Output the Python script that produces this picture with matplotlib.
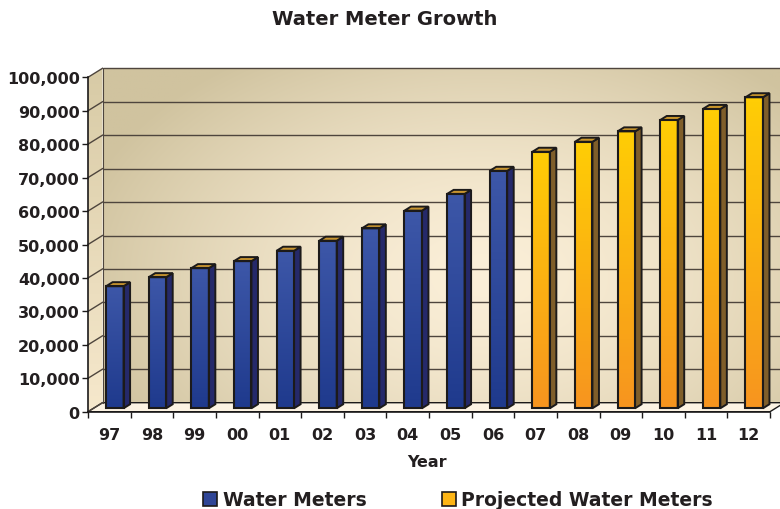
import numpy as np
import matplotlib.pyplot as plt
from matplotlib.patches import Polygon, Patch
from matplotlib.colors import to_rgb

# values (front plane of the 3-D chart)
years = ['97', '98', '99', '00', '01', '02', '03', '04',
         '05', '06', '07', '08', '09', '10', '11', '12']
meters = [36500, 39200, 41900, 44000, 47100, 50100, 53800, 59100, 64100, 71000]
projected = [76700, 79700, 82800, 86200, 89500, 93000]
yticks = list(range(0, 100001, 10000))

TXT = '#231f20'
EDGE = '#1c1a1a'
plt.rcParams['font.family'] = 'DejaVu Sans'
plt.rcParams['font.weight'] = 'bold'


def vgrad(top, bottom, n=64):
    t = np.linspace(0, 1, n)[:, None, None]
    return (1 - t) * np.array(to_rgb(top)) + t * np.array(to_rgb(bottom))


fig = plt.figure(figsize=(7.8, 5.1), dpi=100)
W, H = 780, 510

# plot box in pixels: front axis at x=88, floor front at y=412.7,
# back wall top at y=69.3; depth offset 14.5px right, 9px up
DPX, DPY = 14.5, 9.0
left, right, bottom, top = 88, 784.5, 412.7, 69.3
ax = fig.add_axes([left / W, (H - bottom) / H, (right - left) / W, (bottom - top) / H])
ncat = len(years)
pxu = (right - left - DPX) / ncat
pyu = (bottom - top - DPY) / 100000
ddx, ddy = DPX / pxu, DPY / pyu
ax.set_xlim(0, ncat + ddx)
ax.set_ylim(0, 100000 + ddy)
ax.patch.set_visible(False)

# back wall with soft radial gradient
nx, ny = 240, 140
gx, gy = np.meshgrid(np.linspace(0, 1, nx), np.linspace(0, 1, ny))
r = np.sqrt(((gx - 0.56) / 0.62) ** 2 + ((gy - 0.62) / 0.8) ** 2)
t = np.clip(r, 0, 1) ** 1.5
light, dark = np.array(to_rgb('#fbefd8')), np.array(to_rgb('#d0c39f'))
wall = (1 - t)[..., None] * light + t[..., None] * dark
ax.imshow(wall, extent=(ddx, ncat + ddx, ddy, 100000 + ddy), aspect='auto',
          zorder=0, interpolation='bilinear')

# left side wall
side = Polygon([(0, 0), (ddx, ddy), (ddx, 100000 + ddy), (0, 100000)],
               closed=True, facecolor='none', edgecolor='none')
ax.add_patch(side)
sim = ax.imshow(vgrad('#d8cba6', '#f6e8cc'), extent=(0, ddx, 0, 100000 + ddy),
                aspect='auto', zorder=0.5)
sim.set_clip_path(side)

# floor
ax.add_patch(Polygon([(0, 0), (ncat, 0), (ncat + ddx, ddy), (ddx, ddy)], closed=True,
                     facecolor='#fcf3e3', edgecolor=EDGE, lw=1.0, zorder=1))

# grid lines on walls
GRID = '#4e453d'
ax.hlines([v + ddy for v in yticks[1:]], ddx, ncat + ddx, color=GRID, lw=1.0,
          zorder=1, clip_on=False)
for v in yticks:
    ax.plot([0, ddx], [v, v + ddy], color=GRID, lw=1.0, zorder=1, clip_on=False)
ax.plot([ddx, ddx], [ddy, 100000 + ddy], color=GRID, lw=0.8, zorder=1)

# bars
values = meters + projected
styles = [dict(front=('#3d57a8', '#1f3a8d'), side='#25296a', top='#c89530')] * len(meters) + \
         [dict(front=('#ffcd05', '#f7951f'), side='#7f5e2a', top='#c9962c')] * len(projected)
fx, fy = 0.38 * ddx, 0.38 * ddy
bx, by = 0.45 * ddx, 0.45 * ddy
xs = np.arange(ncat) + 0.5 + fx
bw = 0.41
LW = 1.4
bars = ax.bar(xs, values, width=bw, bottom=fy, color='white', zorder=4)
for b, v, st in zip(bars, values, styles):
    x0, x1 = b.get_x(), b.get_x() + b.get_width()
    y0, y1 = fy, fy + v
    im = ax.imshow(vgrad(*st['front']), extent=(x0, x1, y0, y1), aspect='auto', zorder=4.1)
    im.set_clip_path(b)
    ax.add_patch(Polygon([(x1, y0), (x1 + bx, y0 + by), (x1 + bx, y1 + by), (x1, y1)],
                         closed=True, facecolor=st['side'], edgecolor=EDGE, lw=LW,
                         joinstyle='miter', zorder=4.2))
    ax.add_patch(Polygon([(x0, y1), (x1, y1), (x1 + bx, y1 + by), (x0 + bx, y1 + by)],
                         closed=True, facecolor=st['top'], edgecolor=EDGE, lw=LW,
                         joinstyle='miter', zorder=4.2))
ax.bar(xs, values, width=bw, bottom=fy, facecolor='none', edgecolor=EDGE, lw=LW + 0.1,
       joinstyle='miter', zorder=4.3)

# axes, ticks and labels
for s in ['top', 'right']:
    ax.spines[s].set_visible(False)
ax.spines['left'].set_bounds(0, 100000)
ax.spines['bottom'].set_bounds(0, ncat)
for s in ['left', 'bottom']:
    ax.spines[s].set_color(EDGE)
    ax.spines[s].set_linewidth(1.2)
    ax.spines[s].set_zorder(5)
ax.set_yticks(yticks)
ax.set_yticklabels([f'{v:,}' for v in yticks])
ax.tick_params(axis='y', length=4.5, width=1.0, color=EDGE, pad=1.5,
               labelsize=11.5, labelcolor=TXT)
ax.set_xticks(np.arange(ncat + 1))
ax.set_xticklabels([])
ax.set_xticks(np.arange(ncat) + 0.5, minor=True)
ax.set_xticklabels(years, minor=True)
ax.tick_params(axis='x', which='major', length=4.5, width=1.0, color=EDGE)
ax.tick_params(axis='x', which='minor', length=0, pad=11, labelsize=11.5, labelcolor=TXT)

fig.text(384.7 / W, 1 - 19.5 / H, 'Water Meter Growth', ha='center', va='center',
         fontsize=14, color=TXT, fontweight='bold')
fig.text(427 / W, 1 - 463 / H, 'Year', ha='center', va='center', fontsize=11.5,
         color=TXT, fontweight='bold')

handles = [Patch(facecolor='#2f4596', edgecolor=EDGE, lw=1.2, label='Water Meters'),
           Patch(facecolor='#fdb515', edgecolor=EDGE, lw=1.2, label='Projected Water Meters')]
leg = fig.legend(handles=handles, ncol=2, loc='center', bbox_to_anchor=(458 / W, 1 - 501 / H),
                 frameon=False, fontsize=13.5, handlelength=0.75, handleheight=0.75,
                 handletextpad=0.3, columnspacing=4.0, borderpad=0, borderaxespad=0)
for txt in leg.get_texts():
    txt.set_color(TXT)
    txt.set_fontweight('bold')

fig.savefig('out.png', dpi=100)
